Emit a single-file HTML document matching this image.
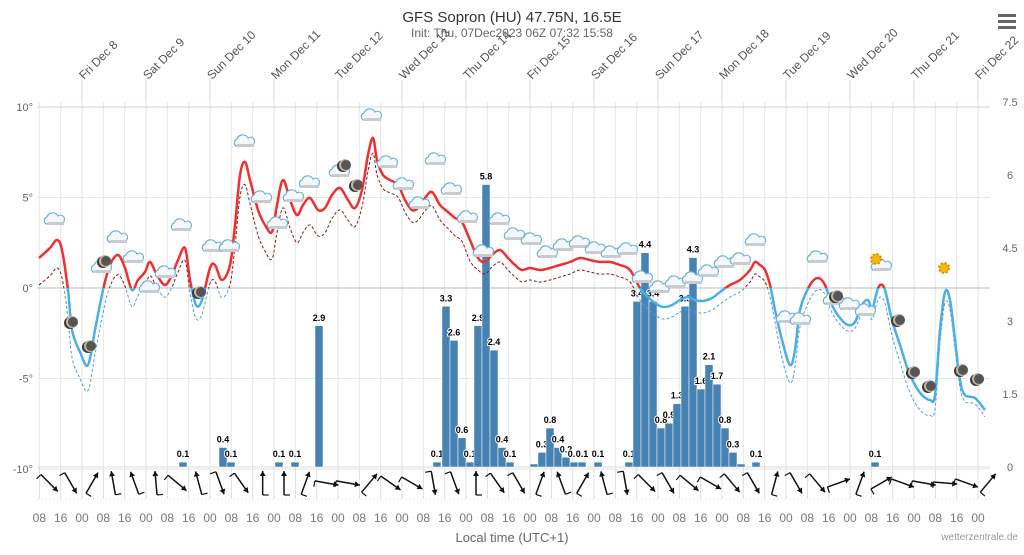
<!DOCTYPE html>
<html><head><meta charset="utf-8"><style>
body{margin:0;background:#fff;width:1024px;height:550px;overflow:hidden;font-family:"Liberation Sans",sans-serif}
</style></head><body>
<svg id="s" width="1024" height="550" xmlns="http://www.w3.org/2000/svg" font-family="Liberation Sans, sans-serif">
<defs>
<clipPath id="above"><rect x="0" y="0" width="1024" height="288"/></clipPath>
<clipPath id="below"><rect x="0" y="288" width="1024" height="262"/></clipPath>
<g id="cloud"><path d="M-9,4 a4,4 0 0 1 1,-7 a6,6 0 0 1 11,-1 a4,4 0 0 1 6,5 a3,3 0 0 1 -2,3 z" fill="#f4f8fb" stroke="#6fb0d8" stroke-width="1.2"/><rect x="-8" y="2" width="17" height="3" fill="#c8ccd0"/></g>
<g id="moon"><circle r="6" fill="#3a3a3a"/><circle r="6" cx="2" cy="-1" fill="#c8b89a"/><circle r="5" cx="3" cy="-1" fill="#555"/></g>
</defs>
<text x="512" y="22" text-anchor="middle" font-size="15" fill="#333">GFS Sopron (HU) 47.75N, 16.5E</text>
<text x="512" y="37" text-anchor="middle" font-size="12" fill="#666">Init: Thu, 07Dec2023 06Z     07:32     15:58</text>
<g fill="#666"><rect x="998" y="14" width="18" height="3"/><rect x="998" y="20" width="18" height="3"/><rect x="998" y="26" width="18" height="3"/></g>
<g id="grid"></g>
<g id="bars"></g>
<g id="series"></g>
<g id="icons"></g>
<g id="wind"></g>
<text x="512" y="542" text-anchor="middle" font-size="13" fill="#666">Local time (UTC+1)</text>
<text x="1018" y="540" text-anchor="end" font-size="10" fill="#999">wetterzentrale.de</text>
</svg>
<script>
var NS="http://www.w3.org/2000/svg";
function el(p,t,a,txt){var e=document.createElementNS(NS,t);for(var k in a)e.setAttribute(k,a[k]);if(txt!=null)e.textContent=txt;document.getElementById(p).appendChild(e);return e;}
var L=37,R=990,T=102,B=467;
function X(h){return 18+h*64/24;}
function Y(t){return 288-t*18.1;}
// grid
el('grid','rect',{x:L,y:T,width:R-L,height:B-T,fill:'#fff'});
for(var h=8;h<=8+24*15;h+=8){var x=X(h);if(x>R)break;el('grid','line',{x1:x,y1:T,x2:x,y2:B,stroke:'#e6e6e6'});}
[10,5,-5,-10].forEach(function(t){el('grid','line',{x1:L,y1:Y(t),x2:R,y2:Y(t),stroke:'#e6e6e6'});});
el('grid','line',{x1:L,y1:Y(10),x2:R,y2:Y(10),stroke:'#ccd6eb'});
el('grid','line',{x1:L,y1:288,x2:R,y2:288,stroke:'#bbb'});
var tl=['10°','5°','0°','-5°','-10°'];[10,5,0,-5,-10].forEach(function(t,i){el('grid','text',{x:33,y:Y(t)+4,'text-anchor':'end','font-size':11,fill:'#666'},tl[i]);});
['7.5','6','4.5','3','1.5','0'].forEach(function(v,i){el('grid','text',{x:1010,y:T+i*73+4,'text-anchor':'middle','font-size':11,fill:'#666'},v);});
var days=['Fri Dec 8','Sat Dec 9','Sun Dec 10','Mon Dec 11','Tue Dec 12','Wed Dec 13','Thu Dec 14','Fri Dec 15','Sat Dec 16','Sun Dec 17','Mon Dec 18','Tue Dec 19','Wed Dec 20','Thu Dec 21','Fri Dec 22'];
days.forEach(function(d,i){var x=X(24*(i+1));el('grid','line',{x1:x,y1:80,x2:x,y2:T,stroke:'#ccd6eb'});el('grid','text',{x:x+2,y:80,'font-size':12,fill:'#555',transform:'rotate(-45 '+(x+2)+' 80)'},d);});
// bottom labels
var lab=['08','16','00'];var i=0;for(var h=8;X(h)<=R+5;h+=8,i++){el('grid','text',{x:X(h),y:522,'text-anchor':'middle','font-size':12,fill:'#777'},lab[i%3]);}
el('grid','line',{x1:L,y1:B,x2:R,y2:B,stroke:'#ddd'});
el('grid','line',{x1:L,y1:499,x2:R,y2:499,stroke:'#ccd6eb',"stroke-dasharray":"1,3"});
for(var h=8;X(h)<=R;h+=8){el('grid','line',{x1:X(h),y1:B,x2:X(h),y2:499,stroke:'#ddd'});}
// bars
var bars=[[179,0.1],[219,0.4],[227,0.1],[275,0.1],[291,0.1],[315,2.9],[433,0.1],[442,3.3],[450,2.6],[458,0.6],[466,0.1],[474,2.9],[482,5.8],[490,2.4],[498,0.4],[506,0.1],[530,0.05],[538,0.3],[546,0.8],[554,0.4],[562,0.2],[570,0.1],[578,0.1],[594,0.1],[625,0.1],[633,3.4],[641,4.4],[649,3.4],[657,0.8],[665,0.9],[673,1.3],[681,3.3],[689,4.3],[697,1.6],[705,2.1],[713,1.7],[721,0.8],[729,0.3],[737,0.05],[752,0.1],[871,0.1]];
bars.forEach(function(b){var h=Math.max(b[1]*48.7,3);el('bars','rect',{x:b[0],y:B-h,width:8,height:h,fill:'#4682b4',stroke:'#fff','stroke-width':0.5});
if(b[1]>=0.1)el('bars','text',{x:b[0]+4,y:B-h-5,'text-anchor':'middle','font-size':9,'font-weight':'bold',fill:'#000',stroke:'#fff','stroke-width':2,'paint-order':'stroke'},b[1].toFixed(1));});
// temperature
var P=[[39,258],[50,248],[57,240],[62,250],[68,290],[72,330],[80,352],[88,365],[95,330],[103,290],[110,265],[118,255],[125,268],[132,290],[138,280],[145,272],[150,262],[157,275],[165,285],[172,275],[178,260],[185,248],[190,280],[196,305],[202,300],[210,268],[215,265],[222,280],[230,265],[235,225],[240,175],[245,162],[250,180],[258,210],[265,225],[272,232],[277,205],[283,180],[290,200],[297,215],[303,205],[310,198],[318,210],[325,208],[332,195],[340,188],[348,200],[355,208],[362,190],[368,155],[373,138],[377,160],[383,175],[390,180],[398,185],[405,200],[412,210],[418,208],[425,198],[432,192],[440,205],[448,212],[455,218],[462,222],[470,240],[478,258],[485,262],[492,255],[500,250],[508,258],[515,265],[522,270],[530,268],[540,270],[550,268],[560,265],[570,262],[580,258],[590,260],[600,262],[610,262],[620,265],[630,270],[640,288],[648,297],[655,303],[663,307],[672,305],[680,300],[688,297],[695,300],[703,301],[712,298],[720,292],[730,285],[740,280],[750,270],[755,262],[760,265],[765,270],[770,285],[775,310],[782,340],[790,365],[795,350],[800,310],[810,285],[818,278],[825,285],[832,305],[840,318],[848,325],[855,322],[862,305],[868,300],[872,310],[876,295],[880,285],[885,290],[892,320],[900,345],[908,370],[915,385],[922,395],[930,400],[935,395],[940,330],[945,292],[950,300],[955,340],[960,380],[965,395],[975,398],[985,410]];
function path(pts){var d='M'+pts[0][0]+','+pts[0][1];for(var i=1;i<pts.length;i++){var p0=pts[i-1],p1=pts[i],pm=pts[Math.max(i-2,0)],pn=pts[Math.min(i+1,pts.length-1)];
d+=' C'+(p0[0]+(p1[0]-pm[0])/6).toFixed(1)+','+(p0[1]+(p1[1]-pm[1])/6).toFixed(1)+' '+(p1[0]-(pn[0]-p0[0])/6).toFixed(1)+','+(p1[1]-(pn[1]-p0[1])/6).toFixed(1)+' '+p1[0]+','+p1[1];}return d;}
var D=P.map(function(p){var off=20+8*Math.sin(p[0]/37);if(p[0]>470&&p[0]<780)off=12;if(p[0]>780)off=12+6*Math.sin(p[0]/20);return [p[0],p[1]+off];});
var dd=path(D);
el('series','path',{d:dd,fill:'none',stroke:'#8b1a1a','stroke-width':1,'stroke-dasharray':'3,2','clip-path':'url(#above)'});
el('series','path',{d:dd,fill:'none',stroke:'#5b9bd5','stroke-width':1,'stroke-dasharray':'3,2','clip-path':'url(#below)'});
var td=path(P);
el('series','path',{d:td,fill:'none',stroke:'#f03030','stroke-width':2.5,'clip-path':'url(#above)'});
el('series','path',{d:td,fill:'none',stroke:'#4aaee8','stroke-width':2.5,'clip-path':'url(#below)'});
// icons
var clouds=[[55,220],[102,268],[118,238],[134,258],[150,288],[166,273],[182,226],[213,247],[230,247],[245,142],[262,198],[278,224],[294,197],[310,183],[340,172],[372,116],[388,163],[404,185],[420,204],[436,160],[452,190],[468,218],[484,252],[500,220],[515,235],[532,240],[548,253],[564,246],[580,243],[596,249],[612,253],[628,250],[643,278],[660,288],[676,283],[693,279],[709,272],[725,263],[741,260],[756,241],[787,318],[801,320],[818,258],[834,300],[850,305],[866,311],[882,266]];
clouds.forEach(function(c){var u=el('icons','use',{href:'#cloud',transform:'translate('+c[0]+','+c[1]+')'});});
[[70,323],[88,347],[103,262],[198,293],[343,166],[355,186],[835,297],[897,321],[912,373],[928,387],[960,371],[976,380]].forEach(function(m){el('icons','use',{href:'#moon',transform:'translate('+m[0]+','+m[1]+')'});});
[[876,259],[944,268]].forEach(function(s){el('icons','circle',{cx:s[0],cy:s[1],r:5,fill:'#f5b800',stroke:'#f08000','stroke-width':2,'stroke-dasharray':'2,2'});});
// wind arrows
var ang=[135,150,30,-10,-20,-5,130,-15,160,145,0,0,20,100,100,40,125,120,170,160,0,145,150,20,-20,30,-15,170,135,150,130,120,140,150,15,150,140,70,20,60,110,100,95,110,40,100,90,100,95,60,30,40,45];
var k=0;for(var h=8;X(h)<R;h+=8,k++){var cx=X(h)+10,cy=483,a=(ang[k%ang.length])*Math.PI/180;var dx=Math.sin(a)*12,dy=-Math.cos(a)*12;
el('wind','line',{x1:cx-dx,y1:cy-dy,x2:cx+dx,y2:cy+dy,stroke:'#111','stroke-width':1.5});
var ex=cx+dx,ey=cy+dy,ux=dx/12,uy=dy/12;
el('wind','path',{d:'M'+ex+','+ey+' L'+(ex-ux*5-uy*3)+','+(ey-uy*5+ux*3)+' L'+(ex-ux*5+uy*3)+','+(ey-uy*5-ux*3)+'Z',fill:'#111'});
el('wind','line',{x1:cx-dx,y1:cy-dy,x2:cx-dx-uy*6,y2:cy-dy+ux*6,stroke:'#111','stroke-width':1.2});}
</script>
</body></html>
